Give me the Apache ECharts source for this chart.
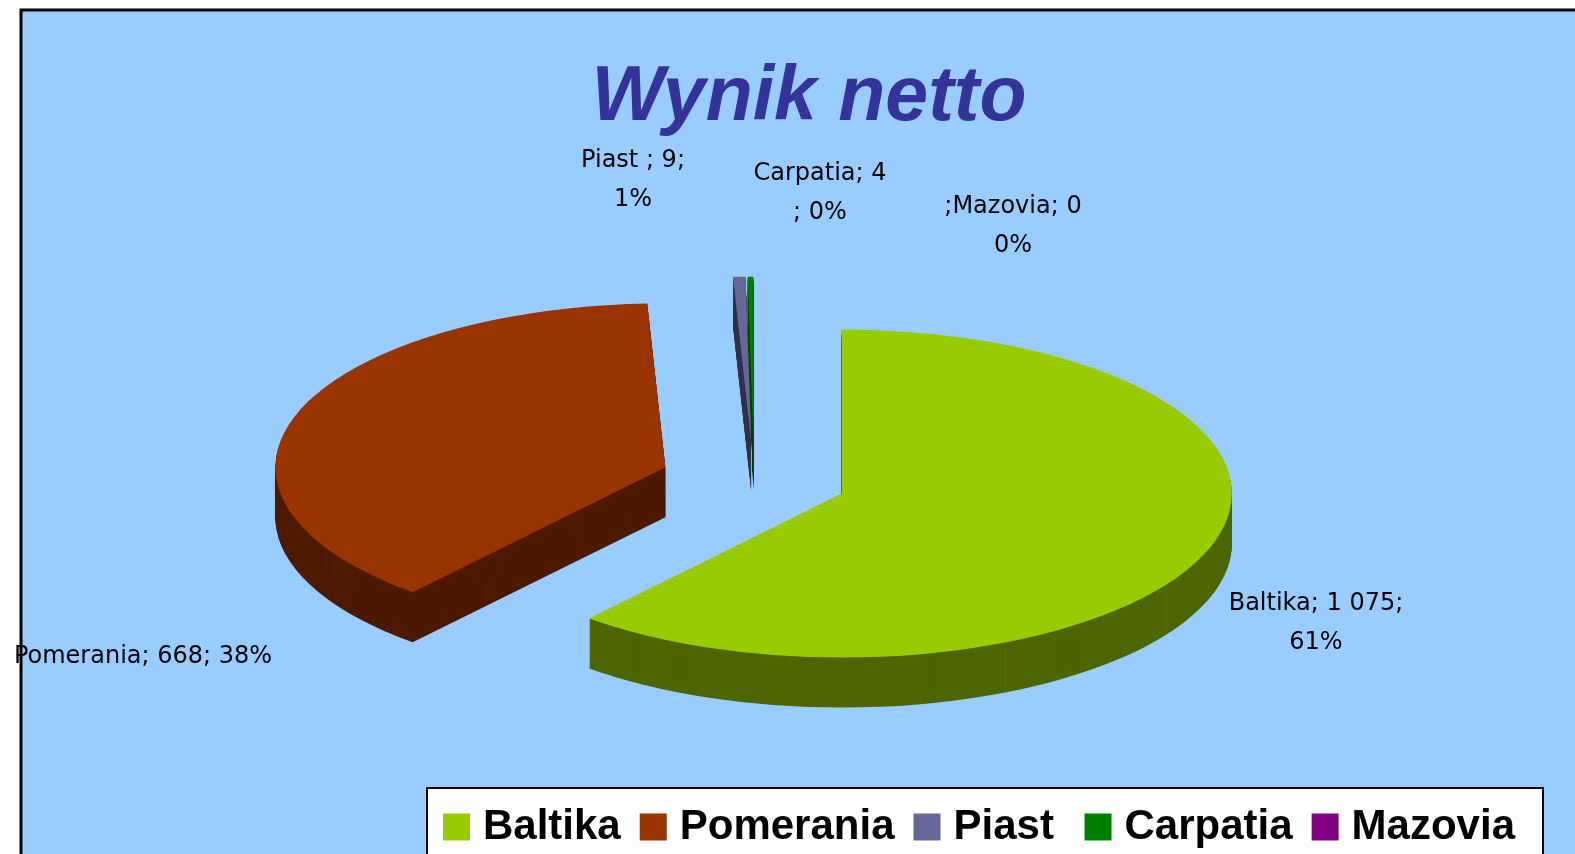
<!DOCTYPE html>
<html>
<head>
<meta charset="utf-8">
<script src="https://cdn.jsdelivr.net/npm/echarts@6/dist/echarts.min.js"></script>
<style>
html,body{margin:0;padding:0;background:#fff;}
#chart{width:1575px;height:854px;}
</style>
</head>
<body>
<div id="chart"></div>
<script>
// ---- data ----
const titleText = 'Wynik netto';
const categories = ['Baltika', 'Pomerania', 'Piast ', 'Carpatia', 'Mazovia'];
const values = [1075, 668, 9, 4, 0];
const topColors = ['#99CC00', '#993300', '#666699', '#008000', '#800080'];
const sideColors = ['#4D6600', '#4D1A00', '#33334D', '#004000', '#400040'];
// label text patterns as wrapped in the original ({n}=name, {v}=value, {p}=percent)
const labelTemplates = ['{n}; {v};\n{p}', '{n}; {v}; {p}', '{n}; {v};\n{p}', '{n}; {v}\n; {p}', ';{n}; {v}\n{p}'];

// ---- layout ----
const CX = 754, CY = 480, RX = 390, RY = 164, DEPTH = 50, EXPLODE = 0.24;
const labelPos = [[1316, 623], [143, 657], [633, 180], [820, 193], [1013, 226]];

const total = values.reduce((a, b) => a + b, 0);
const cum = [];
values.reduce((acc, v, i) => { cum[i] = acc; return acc + v; }, 0);

function fmtNum(v) { return String(v).replace(/\B(?=(\d{3})+(?!\d))/g, ' '); }

function makeRender(i) {
  return function (params, api) {
    const v = api.value(0);
    if (!v) return { type: 'group', children: [] };
    const s = cum[i] / total * Math.PI * 2;
    const e = s + v / total * Math.PI * 2;
    const m = (s + e) / 2;
    const cx = CX + EXPLODE * RX * Math.sin(m);
    const cy = CY - EXPLODE * RY * Math.cos(m);
    const a0 = s - Math.PI / 2, a1 = e - Math.PI / 2;
    const children = [];
    for (let d = DEPTH; d >= 1; d--) {
      children.push({
        type: 'sector', x: cx, y: cy + d, scaleY: RY / RX, z2: 1,
        shape: { cx: 0, cy: 0, r: RX, r0: 0, startAngle: a0, endAngle: a1, clockwise: true },
        style: { fill: sideColors[i] }
      });
    }
    children.push({
      type: 'sector', x: cx, y: cy, scaleY: RY / RX, z2: 10,
      shape: { cx: 0, cy: 0, r: RX, r0: 0, startAngle: a0, endAngle: a1, clockwise: true },
      style: { fill: api.visual('color') }
    });
    return { type: 'group', children: children };
  };
}

const series = categories.map((name, i) => ({
  type: 'custom',
  name: name,
  coordinateSystem: 'none',
  silent: true,
  animation: false,
  itemStyle: { color: topColors[i] },
  data: [[values[i]]],
  renderItem: makeRender(i)
}));

const labelEls = categories.map((name, i) => {
  const pct = Math.round(values[i] / total * 100) + '%';
  const txt = labelTemplates[i].replace('{n}', name).replace('{v}', fmtNum(values[i])).replace('{p}', pct);
  return {
    type: 'text', x: labelPos[i][0], y: labelPos[i][1], z: 100,
    style: {
      text: txt, fill: '#000', fontFamily: 'DejaVu Sans', fontSize: 24, lineHeight: 39,
      align: 'center', verticalAlign: 'middle'
    }
  };
});

const chart = echarts.init(document.getElementById('chart'), null, { renderer: 'canvas' });
chart.setOption({
  backgroundColor: '#ffffff',
  animation: false,
  graphic: [
    {
      type: 'rect', z: -10, silent: true,
      shape: { x: 21, y: 10, width: 1620, height: 900 },
      style: { fill: '#99CCFF', stroke: '#000', lineWidth: 3 }
    },
    {
      type: 'text', x: 809, y: 99, z: 100,
      style: {
        text: titleText, fill: '#333399', fontFamily: 'Liberation Sans', fontWeight: 'bold',
        fontStyle: 'italic', fontSize: 77, align: 'center', verticalAlign: 'middle'
      }
    }
  ].concat(labelEls),
  legend: {
    data: categories,
    left: 427, top: 788,
    orient: 'horizontal',
    icon: 'rect',
    itemWidth: 27, itemHeight: 27, itemGap: 19,
    selectedMode: false,
    backgroundColor: '#ffffff',
    borderColor: '#000', borderWidth: 2,
    padding: [18, 28, 40, 16],
    textStyle: { fontFamily: 'Liberation Sans', fontWeight: 'bold', fontSize: 42, color: '#000', padding: [0, 0, 0, 8] }
  },
  series: series
});
</script>
</body>
</html>
